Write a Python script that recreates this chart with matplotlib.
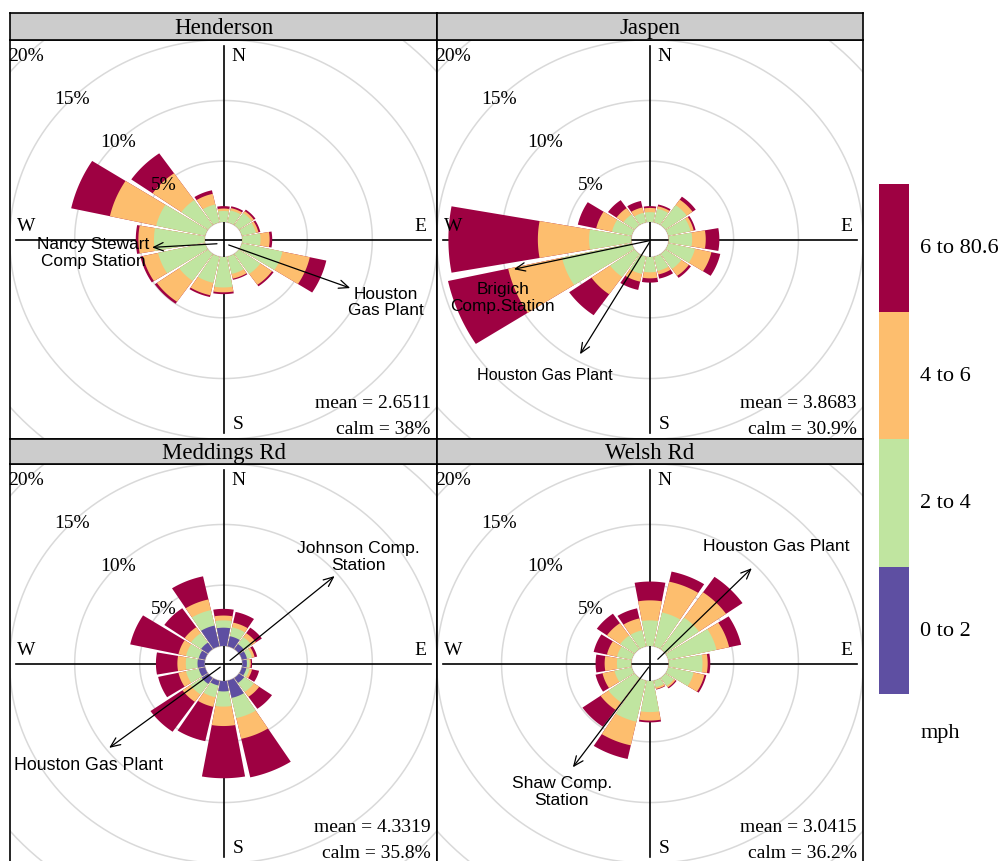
import numpy as np
import matplotlib
matplotlib.use("Agg")
import matplotlib.pyplot as plt
from matplotlib.patches import Polygon

plt.rcParams['font.family'] = ['Liberation Serif', 'DejaVu Serif']
SANS = ['Liberation Sans', 'DejaVu Sans']

# wind directions (degrees) and speed bins
directions = np.arange(0, 360, 22.5)
bin_labels = ['0 to 2', '2 to 4', '4 to 6', '6 to 80.6']
bin_colours = ['#5E4FA2', '#C0E5A0', '#FDBE6E', '#9E0142']

sites = ['Henderson', 'Jaspen', 'Meddings Rd', 'Welsh Rd']
means = ['2.6511', '3.8683', '4.3319', '3.0415']
calms = ['38%', '30.9%', '35.8%', '36.2%']

# frequencies (%) per direction, N, NNE, NE ... NNW
hen_0_2 = [0] * 16
hen_2_4 = [0.9, 1.0, 1.2, 1.1, 1.4, 3.2, 2.0, 1.45, 2.5, 2.2, 2.7, 3.7, 3.9, 3.85, 2.5, 1.5]
hen_4_6 = [0.2, 0.2, 0.2, 0.2, 0.7, 2.15, 1.1, 0.4, 0.4, 1.05, 2.1, 1.2, 1.2, 3.65, 2.7, 0.9]
hen_6_up = [0.2, 0.15, 0.15, 0.15, 0.2, 1.3, 0.15, 0.1, 0.15, 0.15, 0.2, 0.2, 0.2, 3.05, 2.0, 0.3]

jas_0_2 = [0] * 16
jas_2_4 = [0.8, 1.15, 2.0, 1.75, 1.8, 2.1, 1.5, 1.2, 1.25, 1.45, 2.3, 5.5, 3.25, 1.55, 1.05, 0.8]
jas_4_6 = [0.35, 0.2, 0.55, 0.25, 1.05, 1.3, 0.7, 0.3, 0.5, 0.65, 1.75, 4.25, 3.95, 1.25, 0.65, 0.45]
jas_6_up = [0.15, 0.15, 0.3, 0.15, 1.05, 0.7, 0.2, 0.35, 0.35, 0.7, 2.1, 4.75, 6.9, 1.45, 0.8, 0.55]

med_0_2 = [1.5, 0.85, 0.5, 0.4, 0.35, 0.35, 0.5, 1.45, 0.85, 0.4, 0.6, 0.5, 0.55, 0.5, 0.65, 1.75]
med_2_4 = [0.6, 0.75, 0.7, 0.4, 0.2, 0.25, 0.9, 1.7, 1.25, 1.0, 1.05, 1.0, 0.9, 1.0, 0.95, 1.3]
med_4_6 = [0.4, 0.4, 0.4, 0.2, 0.1, 0.2, 0.5, 1.75, 1.6, 0.8, 0.75, 0.6, 0.65, 0.6, 0.6, 0.9]
med_6_up = [0.55, 0.9, 0.55, 0.2, 0.1, 0.55, 1.2, 3.25, 4.3, 2.9, 3.0, 1.6, 1.65, 3.8, 1.9, 1.95]

wel_0_2 = [0] * 16
wel_2_4 = [2.1, 2.85, 3.15, 3.8, 2.6, 2.0, 0.8, 0.55, 2.55, 3.45, 2.45, 1.35, 1.1, 1.15, 1.35, 1.35]
wel_4_6 = [1.65, 2.6, 2.55, 1.0, 0.4, 0.85, 0.15, 0.15, 0.7, 2.0, 0.75, 0.95, 0.95, 0.8, 1.25, 1.0]
wel_6_up = [1.55, 0.85, 1.55, 0.95, 0.2, 0.15, 0.1, 0.05, 0.15, 1.15, 1.7, 0.55, 0.7, 1.05, 0.95, 0.85]

site_freqs = [
    np.array([hen_0_2, hen_2_4, hen_4_6, hen_6_up]),
    np.array([jas_0_2, jas_2_4, jas_4_6, jas_6_up]),
    np.array([med_0_2, med_2_4, med_4_6, med_6_up]),
    np.array([wel_0_2, wel_2_4, wel_4_6, wel_6_up]),
]

# source annotations: (label, arrow start, arrow tip, text centre, size) in % units
site_notes = [
    [("Nancy Stewart\nComp Station", (-0.5, -0.35), (-5.5, -0.65), (-10.0, -1.05), 12.4),
     ("Houston\nGas Plant", (0.4, -0.45), (9.75, -4.0), (12.5, -5.1), 12.4)],
    [("Brigich\nComp.Station", (-0.05, -0.1), (-10.5, -2.45), (-11.35, -4.75), 12.4),
     ("Houston Gas Plant", (-0.05, -0.25), (-5.4, -9.45), (-8.1, -11.1), 11.6)],
    [("Johnson Comp.\nStation", (0.5, 0.25), (8.55, 7.2), (10.35, 8.85), 12.6),
     ("Houston Gas Plant", (-0.25, -0.3), (-8.8, -6.95), (-10.4, -8.3), 12.8)],
    [("Houston Gas Plant", (0.6, 0.35), (7.85, 7.85), (9.7, 9.7), 12.6),
     ("Shaw Comp.\nStation", (-0.1, -0.3), (-5.95, -8.55), (-6.8, -10.5), 12.6)],
]

max_freq = max(f.sum(axis=0).max() for f in site_freqs)
off = 0.1 * max_freq
lim = 1.03 * (max_freq + off)
ring_step = 5

W, H = 1002, 862
fig = plt.figure(figsize=(W / 100, H / 100), dpi=100)


def px_axes(x0, y0, x1, y1):
    return fig.add_axes([x0 / W, 1 - y1 / H, (x1 - x0) / W, (y1 - y0) / H])


def draw_rose(ax, freqs, mean, calm, notes):
    ax.set_xlim(-lim, lim)
    ax.set_ylim(-lim, lim)
    ax.set_xticks([])
    ax.set_yticks([])
    for s in ax.spines.values():
        s.set_linewidth(1.2)
    t = np.linspace(0, 2 * np.pi, 361)
    for k in range(0, 6):
        r = off + k * ring_step
        ax.plot(r * np.sin(t), r * np.cos(t), color='#d9d9d9', lw=1.1, zorder=1)
    m = max_freq + off
    ax.plot([-m, m], [0, 0], color='black', lw=1.2, zorder=2)
    ax.plot([0, 0], [-m, m], color='black', lw=1.2, zorder=2)

    # stacked wedges, drawn outermost first so inner bins sit on top
    cum = np.cumsum(freqs, axis=0)
    half = 0.9 * 22.5 / 2
    for k in range(len(bin_colours) - 1, -1, -1):
        for j, wd in enumerate(directions):
            if freqs[k, j] <= 0:
                continue
            th = np.radians(np.linspace(wd - half, wd + half, 40))
            r2 = off + cum[k, j]
            xs = np.concatenate([off * np.sin(th), r2 * np.sin(th[::-1])])
            ys = np.concatenate([off * np.cos(th), r2 * np.cos(th[::-1])])
            ax.add_patch(Polygon(np.column_stack([xs, ys]), closed=True,
                                 facecolor=bin_colours[k], edgecolor='none', zorder=3))

    # ring labels
    a = np.radians(315)
    for k in range(1, 5):
        r = off + k * ring_step
        ax.text(r * np.sin(a), r * np.cos(a), f"{k * ring_step}%", fontsize=14,
                ha='center', va='center', zorder=6)

    d = 0.95 * m
    e = 0.07 * m
    ax.text(e, d, 'N', fontsize=14, ha='center', va='center', zorder=6)
    ax.text(e, -d, 'S', fontsize=14, ha='center', va='center', zorder=6)
    ax.text(-d, e, 'W', fontsize=14, ha='center', va='center', zorder=6)
    ax.text(d, e, 'E', fontsize=14, ha='center', va='center', zorder=6)

    ax.text(m, -m, f"calm = {calm}", fontsize=14, ha='right', va='baseline', zorder=6)
    ax.annotate(f"mean = {mean}", xy=(m, -m), xytext=(0, 19), textcoords='offset points',
                fontsize=14, ha='right', va='baseline', zorder=6)

    for label, start, tip, txt, size in notes:
        ax.annotate('', xy=tip, xytext=start, zorder=7,
                    arrowprops=dict(arrowstyle='->,head_length=0.7,head_width=0.3',
                                    color='black', lw=0.9, shrinkA=0, shrinkB=0))
        ax.text(txt[0], txt[1], label, family=SANS, fontsize=size, ha='center',
                va='center', linespacing=1.15, zorder=8)


boxes = [(10, 41, 437, 440), (437, 41, 863, 440), (10, 465, 437, 864), (437, 465, 863, 864)]
strips = [(10, 14, 437, 41), (437, 14, 863, 41), (10, 440, 437, 465), (437, 440, 863, 465)]

for i, site in enumerate(sites):
    ax = px_axes(*boxes[i])
    draw_rose(ax, site_freqs[i], means[i], calms[i], site_notes[i])
    sax = px_axes(*strips[i])
    sax.set_facecolor('#cccccc')
    sax.set_xticks([])
    sax.set_yticks([])
    for s in sax.spines.values():
        s.set_linewidth(1.2)
    sax.text(0.5, 0.45, site, fontsize=16.5, ha='center', va='center', transform=sax.transAxes)

# colour key
kax = px_axes(879, 185, 909, 695)
for k, c in enumerate(bin_colours):
    kax.bar(0, 1, bottom=k, width=1, color=c)
    kax.text(0.87, k + 0.5, bin_labels[k], fontsize=16, ha='left', va='center')
kax.set_xlim(-0.5, 0.5)
kax.set_ylim(0, 4)
kax.axis('off')
kax.text(0.87, -0.3, 'mph', fontsize=16, ha='left', va='center', clip_on=False)

fig.savefig('out.png', dpi=100)
